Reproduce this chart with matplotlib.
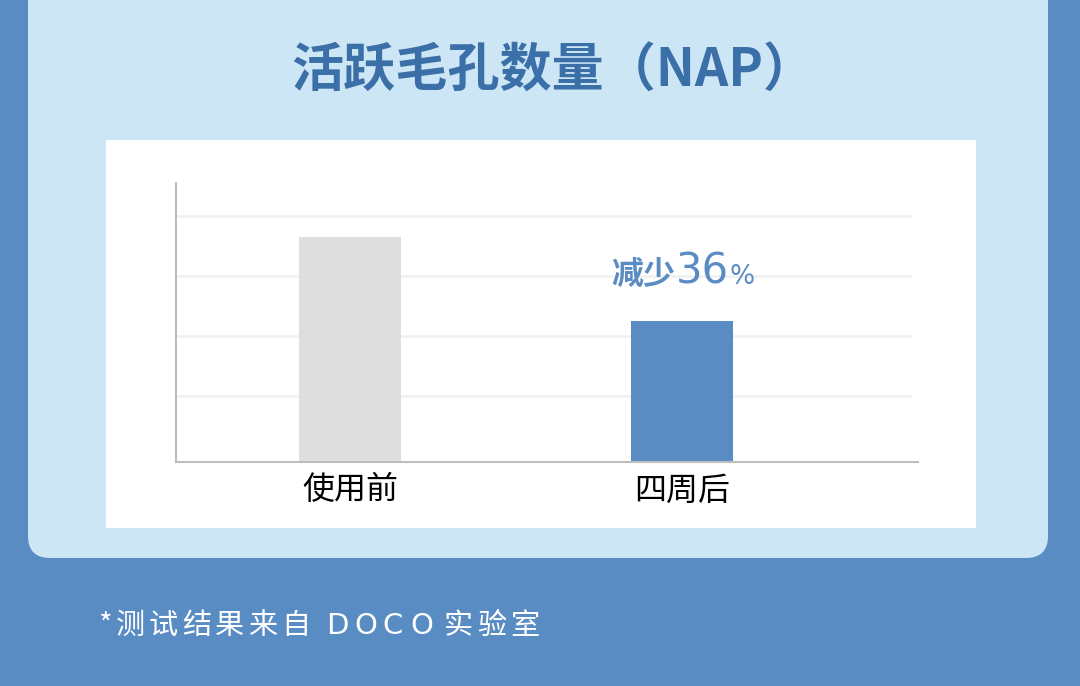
import matplotlib.pyplot as plt
from matplotlib.patches import FancyBboxPatch, Rectangle

plt.rcParams['font.family'] = ['Noto Sans CJK SC', 'DejaVu Sans']

# data
categories = ["使用前", "四周后"]
values = [75, 47]
grid_values = [22, 42, 62, 82]
title = "活跃毛孔数量（NAP）"
note = "*测试结果来自DOCO实验室"
reduction = "36"

OUTER = "#598CC3"
PANEL = "#CDE6F6"
TITLE_C = "#3A6FA8"
GRAY_BAR = "#DEDEDE"
BLUE_BAR = "#598CC3"

fig = plt.figure(figsize=(10.8, 6.86), dpi=100)
fig.patch.set_facecolor(OUTER)

# background layer in pixel units
bg = fig.add_axes([0, 0, 1, 1], zorder=0)
bg.set_xlim(0, 1080)
bg.set_ylim(686, 0)
bg.axis('off')
bg.add_patch(FancyBboxPatch((28, -60), 1020, 618,
                            boxstyle="round,pad=0,rounding_size=22",
                            facecolor=PANEL, edgecolor='none'))
bg.add_patch(Rectangle((106, 140), 870, 388, facecolor='white', edgecolor='none'))
bg.text(553, 71, title, ha='center', va='center', fontsize=37.5,
        fontweight='bold', color=TITLE_C)

# footnote with loose letter spacing
cx = 98
prev = None
for ch in note:
    if ch == '*':
        kind, adv = 'sym', 18
    elif ch.isascii():
        kind, adv = 'lat', 28
    else:
        kind, adv = 'cjk', 33
    if prev == 'cjk' and kind == 'lat':
        cx += 12
    if prev == 'lat' and kind == 'cjk':
        cx += 6
    if kind == 'lat':
        bg.text(cx, 626, ch, ha='left', va='center', fontsize=21,
                family='DejaVu Sans', color='white')
    else:
        bg.text(cx, 626, ch, ha='left', va='center', fontsize=21, color='white')
    cx += adv
    prev = kind

# chart
ax = fig.add_axes([176 / 1080, 1 - 462 / 686, 742 / 1080, 279 / 686], zorder=1)
ax.patch.set_alpha(0)
x = [0, 1]
for g in grid_values:
    ax.axhline(g, xmin=0, xmax=0.989, color="#F1F1F1", lw=2, zorder=0)
ax.bar(x, values, width=0.307, color=[GRAY_BAR, BLUE_BAR], zorder=2)
ax.set_xlim(-0.524, 1.711)
ax.set_ylim(0, 93)
ax.set_yticks([])
ax.set_xticks(x)
ax.set_xticklabels(categories, fontsize=23, color='black')
ax.tick_params(axis='x', length=0, pad=9)
for s in ['top', 'right']:
    ax.spines[s].set_visible(False)
for s in ['left', 'bottom']:
    ax.spines[s].set_color("#BDBDBD")
    ax.spines[s].set_linewidth(1.5)

# annotation above second bar
kw = dict(xycoords='data', textcoords='offset pixels', va='baseline', color=BLUE_BAR)
ax.annotate("减少", (1, values[1]), xytext=(-7, 37), ha='right', fontsize=23,
            fontweight='bold', **kw)
ax.annotate(reduction, (1, values[1]), xytext=(-6, 37), ha='left', fontsize=30,
            family='DejaVu Sans', **kw)
ax.annotate("%", (1, values[1]), xytext=(48, 37), ha='left', fontsize=19,
            family='DejaVu Sans', **kw)

fig.savefig("out.png", dpi=100, facecolor=fig.get_facecolor())
